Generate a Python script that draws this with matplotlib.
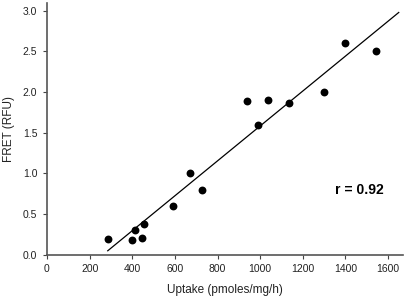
import numpy as np
import matplotlib.pyplot as plt

plt.rcParams['font.family'] = ['Liberation Sans', 'DejaVu Sans']

# uptake (pmoles/mg/h) vs FRET (RFU)
uptake = [285, 397, 413, 444, 455, 591, 670, 727, 940, 989, 1037, 1134, 1300, 1400, 1542]
fret = [0.19, 0.18, 0.30, 0.20, 0.38, 0.60, 1.00, 0.80, 1.89, 1.60, 1.90, 1.87, 2.00, 2.60, 2.50]
x_ticks = [0, 200, 400, 600, 800, 1000, 1200, 1400, 1600]
y_ticks = [0.0, 0.5, 1.0, 1.5, 2.0, 2.5, 3.0]
r_text = "r = 0.92"

fig = plt.figure(figsize=(4.04, 3.0), dpi=100)
ax = fig.add_axes([47 / 404, 45.3 / 300, 356 / 404, 251.7 / 300])

ax.scatter(uptake, fret, s=32, color="black", zorder=3, linewidths=0)

# linear regression line
slope, icpt = np.polyfit(uptake, fret, 1)
xl = np.array([min(uptake), 1650])
ax.plot(xl, slope * xl + icpt, color="black", lw=0.9)

ax.set_xlim(0, 1670)
ax.set_ylim(0, 3.096)
ax.set_xticks(x_ticks)
ax.set_yticks(y_ticks)
ax.set_yticklabels([f"{v:.1f}" for v in y_ticks])
ax.tick_params(labelsize=7.5, length=3, width=0.8, color="#444444", pad=4, labelcolor="#222222")

for side in ["top", "right"]:
    ax.spines[side].set_visible(False)
for side in ["left", "bottom"]:
    ax.spines[side].set_color("#555555")
    ax.spines[side].set_linewidth(1.2)

ax.set_xlabel("Uptake (pmoles/mg/h)", fontsize=8.5, labelpad=7, color="#222222")
ax.set_ylabel("FRET (RFU)", fontsize=8.5, color="#222222")
ax.yaxis.set_label_coords(-0.091, 0.5)

ax.text(1352, 0.79, r_text, fontsize=10, fontweight="bold", va="center", ha="left")

fig.savefig("out.png", dpi=100)
